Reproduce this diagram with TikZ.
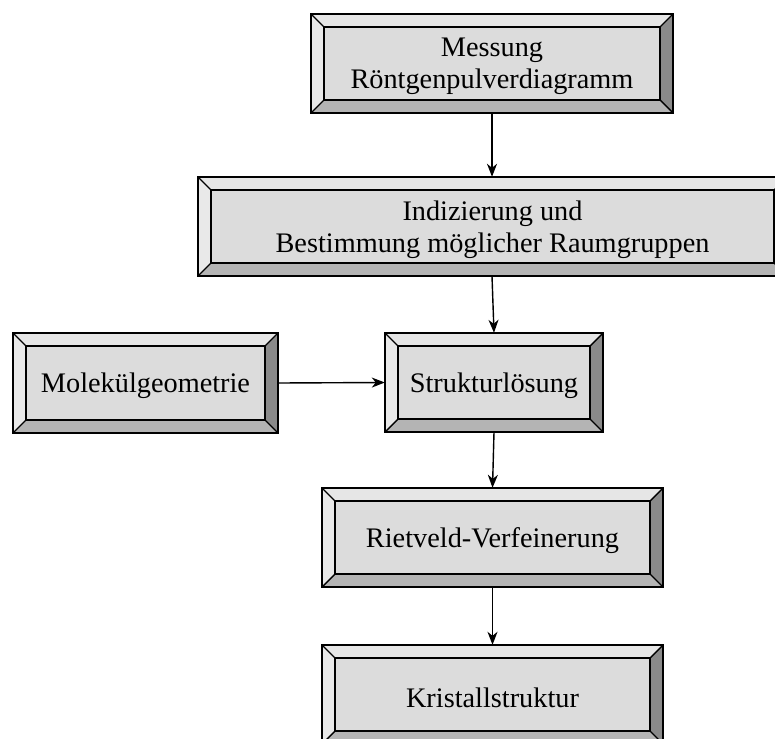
\documentclass[tikz,border=0pt]{standalone}
\usepackage{fontspec}
\setmainfont{Liberation Serif}
\usetikzlibrary{arrows.meta,fit,calc}
\definecolor{facetop}{HTML}{E6E6E6}
\definecolor{faceleft}{HTML}{E9E9E9}
\definecolor{faceinner}{HTML}{DCDCDC}
\definecolor{facebottom}{HTML}{B4B4B4}
\definecolor{faceright}{HTML}{8A8A8A}
\tikzset{
  boxtext/.style={draw=none, inner sep=0pt, align=center,
    font=\fontsize{28.3}{32}\selectfont},
  edgeline/.style={line width=1.4pt, line join=miter},
  conn/.style={line width=1.4pt, -{Stealth[length=13pt,width=10pt,inset=4pt]}}
}
% name, x1, y1, x2, y2, text  (image pixel coordinates, y downward)
\newcommand\bevbox[6]{%
  \def\bv{13}%
  \fill[facetop] (#2,#3) -- (#4,#3) -- ({#4-\bv},{#3+\bv}) -- ({#2+\bv},{#3+\bv}) -- cycle;
  \fill[faceleft] (#2,#3) -- ({#2+\bv},{#3+\bv}) -- ({#2+\bv},{#5-\bv}) -- (#2,#5) -- cycle;
  \fill[facebottom] (#2,#5) -- ({#2+\bv},{#5-\bv}) -- ({#4-\bv},{#5-\bv}) -- (#4,#5) -- cycle;
  \fill[faceright] (#4,#3) -- (#4,#5) -- ({#4-\bv},{#5-\bv}) -- ({#4-\bv},{#3+\bv}) -- cycle;
  \fill[faceinner] ({#2+\bv},{#3+\bv}) rectangle ({#4-\bv},{#5-\bv});
  \draw[edgeline] (#2,#3) rectangle (#4,#5);
  \draw[edgeline] ({#2+\bv},{#3+\bv}) rectangle ({#4-\bv},{#5-\bv});
  \draw[edgeline] (#2,#3) -- ({#2+\bv},{#3+\bv});
  \draw[edgeline] (#4,#3) -- ({#4-\bv},{#3+\bv});
  \draw[edgeline] (#2,#5) -- ({#2+\bv},{#5-\bv});
  \draw[edgeline] (#4,#5) -- ({#4-\bv},{#5-\bv});
  \coordinate (#1-a) at (#2,#3);
  \coordinate (#1-b) at (#4,#5);
  \node[boxtext, fit=(#1-a)(#1-b)] (#1) {};
  \node[boxtext] (#1-t) at ([yshift=-3pt]#1.center) {#6};
}
\begin{document}
\begin{tikzpicture}[x=1pt,y=-1pt]
\useasboundingbox (0,0) rectangle (775,738);
\clip (0,0) rectangle (775,738);
\bevbox{mess}{311}{14}{673}{113}{Messung\\Röntgenpulverdiagramm}
\bevbox{indiz}{198}{177}{787}{276}{Indizierung und\\Bestimmung möglicher Raumgruppen}
\bevbox{molek}{13}{333}{278}{433}{Molekülgeometrie}
\bevbox{strukt}{385}{333}{603}{432}{Strukturlösung}
\bevbox{riet}{322}{488}{663}{587}{Rietveld-Verfeinerung}
\bevbox{krist}{322}{645}{663}{744}{Kristallstruktur}
\draw[conn] (mess.south) -- (mess.south |- indiz.north);
\draw[conn] (indiz.south -| mess.south) -- (strukt.north);
\draw[conn] (molek.east) -- (strukt.west);
\draw[conn] (strukt.south) -- (riet.north);
\draw[conn] (riet.south) -- (krist.north);
\end{tikzpicture}
\end{document}
